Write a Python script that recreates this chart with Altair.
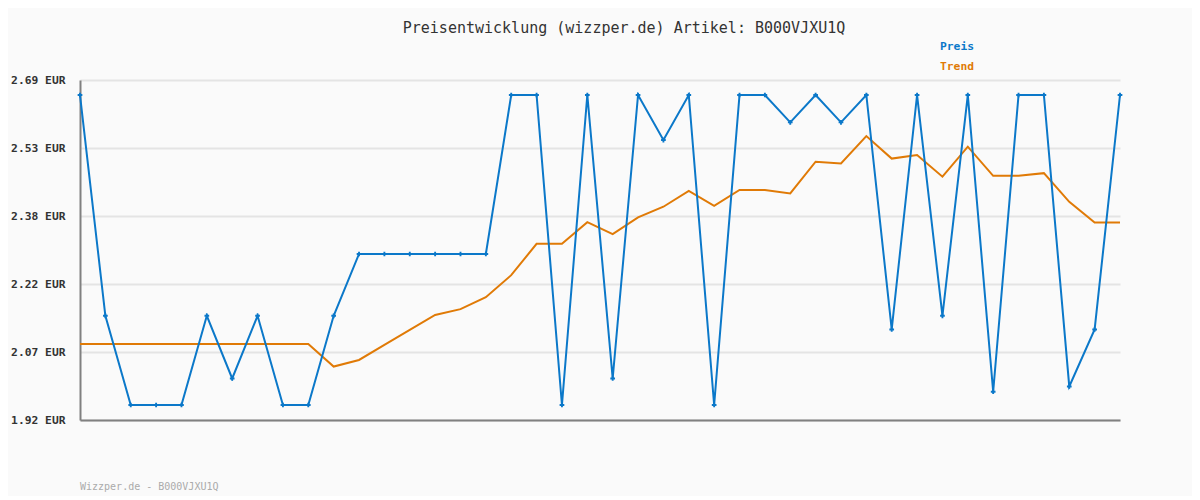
import altair as alt
import pandas as pd

# ---- data ----
price = [2.656, 2.156, 1.954, 1.954, 1.954, 2.156, 2.014, 2.156, 1.954, 1.954,
         2.156, 2.296, 2.296, 2.296, 2.296, 2.296, 2.296, 2.656, 2.656, 1.954,
         2.656, 2.014, 2.656, 2.554, 2.656, 1.954, 2.656, 2.656, 2.594, 2.656,
         2.594, 2.656, 2.125, 2.656, 2.156, 2.656, 1.984, 2.656, 2.656, 1.996,
         2.125, 2.656]
trend = [2.092, 2.092, 2.092, 2.092, 2.092, 2.092, 2.092, 2.092, 2.092, 2.092,
         2.041, 2.056, 2.090, 2.124, 2.158, 2.171, 2.198, 2.248, 2.319, 2.319,
         2.368, 2.341, 2.379, 2.403, 2.439, 2.405, 2.441, 2.441, 2.433, 2.505,
         2.501, 2.563, 2.512, 2.520, 2.471, 2.539, 2.473, 2.473, 2.479, 2.414,
         2.367, 2.367]
tick_values = [1.92, 2.074, 2.228, 2.382, 2.536, 2.69]
tick_labels = ["1.92 EUR", "2.07 EUR", "2.22 EUR", "2.38 EUR", "2.53 EUR", "2.69 EUR"]
title_text = "Preisentwicklung (wizzper.de) Artikel: B000VJXU1Q"
footer_text = "Wizzper.de - B000VJXU1Q"
series_names = ["Preis", "Trend"]

BLUE = "#0b78c9"
ORANGE = "#e07a06"
FONT = "DejaVu Sans Mono"

idx = list(range(len(price)))
df_price = pd.DataFrame({"i": idx, "v": price})
df_trend = pd.DataFrame({"i": idx, "v": trend})

label_expr = "[" + ",".join("'%s'" % s for s in tick_labels) + "][round((datum.value - 1.92) / 0.154)]"

xscale = alt.Scale(domain=[0, len(price) - 1], nice=False, zero=False)
yscale = alt.Scale(domain=[1.92, 2.69], nice=False, zero=False)

xenc = alt.X("i:Q", scale=xscale,
             axis=alt.Axis(labels=False, ticks=False, grid=False, title=None,
                           domainColor="#808080", domainWidth=2))
yenc = alt.Y("v:Q", scale=yscale,
             axis=alt.Axis(values=tick_values, labelExpr=label_expr, title=None,
                           ticks=False, grid=True, gridColor="#e4e4e4", gridWidth=2,
                           domainColor="#808080", domainWidth=2,
                           labelFont=FONT, labelFontSize=11.3, labelFontWeight="bold",
                           labelColor="#333333", labelPadding=15))

trend_line = alt.Chart(df_trend).mark_line(color=ORANGE, strokeWidth=2).encode(x=xenc, y=yenc)
price_line = alt.Chart(df_price).mark_line(color=BLUE, strokeWidth=2).encode(x=xenc, y=yenc)
price_pts = alt.Chart(df_price).mark_point(shape="cross", filled=True, size=22,
                                          color=BLUE, opacity=1).encode(x=xenc, y=yenc)

def text_layer(txt, x, y, color, size, weight="normal", align="left"):
    return alt.Chart(pd.DataFrame({"t": [txt]})).mark_text(
        font=FONT, fontSize=size, fontWeight=weight, color=color,
        align=align, baseline="middle"
    ).encode(x=alt.value(x), y=alt.value(y), text="t:N")

title = text_layer(title_text, 544, -52, "#333333", 15, align="center")
leg1 = text_layer(series_names[0], 860, -33, BLUE, 11.3, "bold")
leg2 = text_layer(series_names[1], 860, -13, ORANGE, 11.3, "bold")
footer = text_layer(footer_text, 0, 407, "#aaaaaa", 10)

chart = alt.layer(trend_line, price_line, price_pts, title, leg1, leg2, footer).properties(
    width=1040, height=340,
    autosize=alt.AutoSizeParams(type="none"),
    padding={"left": 72, "top": 72, "right": 72, "bottom": 76},
    background="#fafafa",
).configure_view(stroke=None)

chart.save("out.html", embed_options={"renderer": "svg", "actions": False})
